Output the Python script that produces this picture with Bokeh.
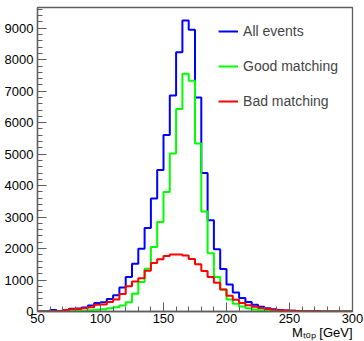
import numpy as np
from bokeh.plotting import figure
from bokeh.models import SingleIntervalTicker, Legend, LegendItem, Range1d, Title
from bokeh.embed import file_html
from bokeh.resources import INLINE

# 5 GeV bins from 50 to 300 GeV
bin_edges = list(range(50, 305, 5))

all_events = [5, 10, 45, 15, 50, 85, 95, 130, 190, 270,
              290, 400, 520, 760, 1100, 1518, 1990, 2650, 3589, 4500,
              5605, 6860, 8240, 9246, 8950, 6800, 4400, 2900, 1980, 1350,
              860, 600, 430, 305, 215, 150, 105, 72, 50, 35,
              22, 14, 9, 5, 4, 3, 2, 2, 1, 1]

good_matching = [0, 0, 0, 0, 5, 10, 15, 25, 40, 55,
                 70, 100, 138, 191, 297, 563, 934, 1359, 2048, 2845,
                 3800, 5022, 6434, 7558, 7335, 5340, 3180, 1850, 1100, 700,
                 380, 250, 160, 100, 65, 40, 25, 15, 8, 5,
                 3, 2, 1, 1, 0, 0, 0, 0, 0, 0]

bad_matching = [0, 0, 5, 15, 45, 75, 80, 100, 137, 213,
                220, 300, 380, 560, 800, 955, 1056, 1291, 1541, 1660,
                1760, 1810, 1815, 1780, 1670, 1500, 1290, 1100, 910, 700,
                500, 370, 270, 200, 150, 110, 80, 58, 42, 32,
                22, 16, 10, 6, 4, 3, 2, 1, 1, 1]

series_names = ["All events", "Good matching", "Bad matching"]
series_colors = ["#0000ff", "#00ff00", "#ff0000"]
x_title = "M\u209c\u2092\u209a [GeV]"

FONT = "Liberation Sans"
AXIS_COL = "#5e5e5e"

p = figure(width=364, height=341, output_backend="svg", toolbar_location=None,
           x_range=Range1d(50, 300), y_range=Range1d(0, 9660),
           min_border_left=37, min_border_right=12, min_border_top=7, min_border_bottom=30)
p.background_fill_color = "white"
p.border_fill_color = "white"
p.outline_line_color = AXIS_COL
p.outline_line_width = 1.3
p.xgrid.visible = False
p.ygrid.visible = False

p.xaxis.ticker = SingleIntervalTicker(interval=50, num_minor_ticks=5)
p.yaxis.ticker = SingleIntervalTicker(interval=1000, num_minor_ticks=5)
for ax in (p.xaxis, p.yaxis):
    ax.axis_line_color = AXIS_COL
    ax.axis_line_width = 1.3
    ax.major_tick_line_color = AXIS_COL
    ax.minor_tick_line_color = AXIS_COL
    ax.major_tick_out = 0
    ax.minor_tick_out = 0
    ax.major_label_text_font = FONT
    ax.major_label_text_font_size = "13px"
    ax.major_label_text_color = "black"
p.xaxis.major_tick_in = 9
p.xaxis.minor_tick_in = 5
p.yaxis.major_tick_in = 9
p.yaxis.minor_tick_in = 5
p.xaxis.major_label_standoff = 2
p.yaxis.major_label_standoff = 4

# x-axis title at the right end, below the tick labels
p.add_layout(Title(text=x_title, align="right", text_font=FONT, text_font_size="13px",
                   text_font_style="normal", text_color="black", standoff=-5), "below")

renderers = []
for vals, col in zip([all_events, good_matching, bad_matching], series_colors):
    r = p.step(x=bin_edges, y=list(vals) + [vals[-1]], mode="after",
               line_color=col, line_width=2)
    renderers.append(r)

legend = Legend(items=[LegendItem(label=n, renderers=[r]) for n, r in zip(series_names, renderers)],
                location="top_right")
legend.border_line_alpha = 0
legend.background_fill_alpha = 0
legend.label_text_font = FONT
legend.label_text_font_size = "14px"
legend.glyph_width = 20
legend.glyph_height = 20
legend.label_height = 20
legend.label_standoff = 5
legend.spacing = 15
legend.margin = 3
legend.padding = 11
p.add_layout(legend)

open("out.html", "w").write(file_html(p, INLINE))
